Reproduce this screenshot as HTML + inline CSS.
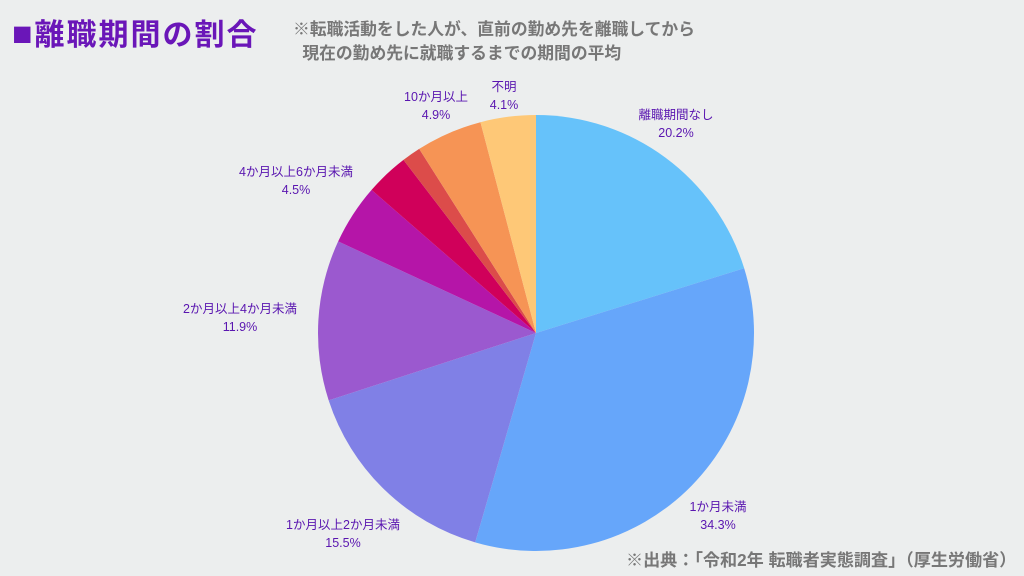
<!DOCTYPE html>
<html><head><meta charset="utf-8"><style>
body{margin:0;width:1024px;height:576px;background:#eceeee;overflow:hidden;font-family:"Liberation Sans","Noto Sans CJK JP",sans-serif;position:relative}
.t{position:absolute;color:#6a16b8;font-weight:bold}
.l{position:absolute;color:#5a16b0;font-size:12.5px;text-align:center;line-height:18px;transform:translateX(-50%);white-space:nowrap}
</style></head><body>
<div class="t" style="left:12px;top:10px;font-size:30px;letter-spacing:2px"><span style="font-size:34px">■</span>離職期間の割合</div>
<div style="position:absolute;left:293px;top:18px;font-size:16.8px;color:#777;line-height:24px;font-weight:bold">※転職活動をした人が、直前の勤め先を離職してから<br>&nbsp;&nbsp;現在の勤め先に就職するまでの期間の平均</div>
<svg id="s" width="1024" height="576" style="position:absolute;left:0;top:0"></svg>
<div class="l" style="left:676px;top:106px">離職期間なし<br>20.2%</div>
<div class="l" style="left:718px;top:498px">1か月未満<br>34.3%</div>
<div class="l" style="left:343px;top:516px">1か月以上2か月未満<br>15.5%</div>
<div class="l" style="left:240px;top:300px">2か月以上4か月未満<br>11.9%</div>
<div class="l" style="left:296px;top:163px">4か月以上6か月未満<br>4.5%</div>
<div class="l" style="left:436px;top:88px">10か月以上<br>4.9%</div>
<div class="l" style="left:504px;top:78px">不明<br>4.1%</div>
<div style="position:absolute;left:626px;top:546px;font-size:17.1px;color:#777;font-weight:bold">※出典：「令和2年 転職者実態調査」（厚生労働省）</div>
<script>
var d=[[20.2,'#66c2fa'],[34.3,'#66a6fa'],[15.5,'#8080e6'],[11.9,'#9b59cf'],[4.5,'#b515a8'],[3.2,'#d0005a'],[1.4,'#dc4c4a'],[4.9,'#f69455'],[4.1,'#fec877']];
var cx=536,cy=333,r=218,a=0,h='';
d.forEach(function(e){var a2=a+e[0]/100*2*Math.PI;
var x1=cx+r*Math.sin(a),y1=cy-r*Math.cos(a),x2=cx+r*Math.sin(a2),y2=cy-r*Math.cos(a2);
h+='<path d="M'+cx+' '+cy+'L'+x1+' '+y1+'A'+r+' '+r+' 0 '+((a2-a)>Math.PI?1:0)+' 1 '+x2+' '+y2+'Z" fill="'+e[1]+'"/>';a=a2;});
document.getElementById('s').innerHTML=h;
</script>
</body></html>
